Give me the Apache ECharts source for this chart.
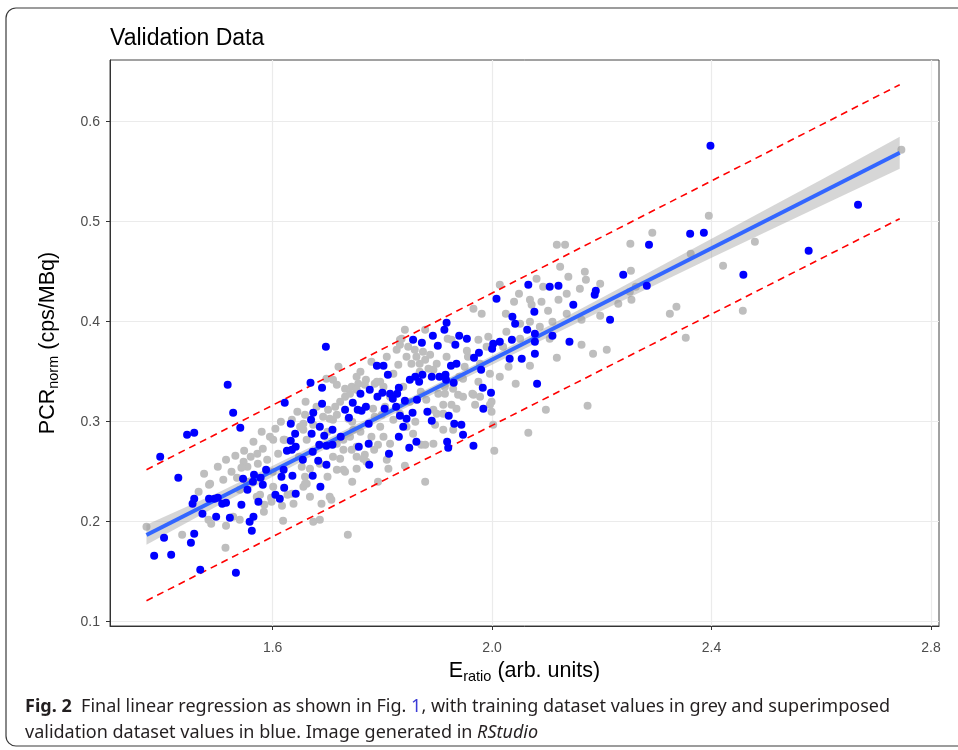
<!DOCTYPE html>
<html>
<head>
<meta charset="utf-8">
<script src="https://cdn.jsdelivr.net/npm/echarts@6/dist/echarts.min.js"></script>
<style>
  html, body { margin: 0; padding: 0; background: #fff; }
  #chart { width: 958px; height: 750px; }
</style>
</head>
<body>
<div id="chart"></div>
<script>
// axis ranges and labelled breaks
const xRange = [1.3035, 2.8146];
const yRange = [0.0957, 0.6617];
const xBreaks = [1.6, 2.0, 2.4, 2.8];
const yBreaks = [0.1, 0.2, 0.3, 0.4, 0.5, 0.6];

// training points (grey)
const trainPts = [
  [1.370,0.195],[1.435,0.187],[1.514,0.174],[1.484,0.237],[1.510,0.242],[1.532,0.266],[1.548,0.271],[1.560,0.265],
  [1.572,0.268],[1.582,0.273],[1.547,0.260],[1.554,0.255],[1.543,0.254],[1.573,0.258],[1.605,0.293],[1.610,0.268],
  [1.620,0.282],[1.635,0.302],[1.535,0.244],[1.483,0.202],[1.488,0.198],[1.515,0.196],[1.540,0.202],[1.585,0.217],
  [1.584,0.210],[1.601,0.235],[1.597,0.224],[1.619,0.201],[1.638,0.218],[1.617,0.216],[1.627,0.227],[1.577,0.227],
  [1.710,0.342],[1.717,0.337],[1.732,0.333],[1.744,0.335],[1.756,0.338],[1.768,0.337],[1.786,0.338],[1.796,0.340],
  [1.732,0.325],[1.723,0.320],[1.714,0.315],[1.701,0.312],[1.717,0.307],[1.704,0.303],[1.692,0.305],[1.659,0.307],
  [1.650,0.295],[1.656,0.292],[1.662,0.282],[1.717,0.278],[1.729,0.282],[1.741,0.285],[1.729,0.272],[1.744,0.272],
  [1.710,0.265],[1.723,0.263],[1.753,0.265],[1.768,0.267],[1.771,0.260],[1.717,0.252],[1.729,0.252],[1.659,0.245],
  [1.656,0.235],[1.668,0.225],[1.704,0.225],[1.689,0.218],[1.811,0.253],[1.841,0.256],[1.792,0.240],[1.878,0.240],
  [1.796,0.295],[1.802,0.285],[1.792,0.277],[1.814,0.278],[1.808,0.262],[1.820,0.302],[1.786,0.305],[1.799,0.307],
  [1.783,0.313],[1.835,0.383],[1.847,0.375],[1.844,0.365],[1.859,0.372],[1.862,0.365],[1.874,0.370],[1.878,0.362],
  [1.887,0.367],[1.899,0.358],[1.884,0.353],[1.868,0.358],[1.838,0.335],[1.902,0.328],[1.914,0.328],[1.911,0.317],
  [1.926,0.317],[1.893,0.312],[1.929,0.292],[1.911,0.292],[1.893,0.278],[1.878,0.277],[1.938,0.327],[1.935,0.313],
  [1.878,0.392],[1.841,0.392],[1.926,0.382],[1.832,0.377],[1.829,0.357],[1.820,0.348],[1.770,0.342],[1.753,0.345],
  [1.698,0.343],[1.686,0.258],[1.668,0.253],[1.653,0.255],[1.753,0.253],[1.707,0.222],[1.674,0.200],[1.686,0.202],
  [1.737,0.187],[1.659,0.238],
  [2.014,0.437],[2.049,0.428],[2.081,0.443],[2.093,0.435],[2.124,0.455],[2.139,0.445],[2.136,0.428],[2.121,0.422],
  [2.169,0.450],[2.171,0.442],[2.160,0.433],[2.197,0.438],[2.069,0.422],[2.072,0.417],[2.102,0.411],[2.136,0.408],
  [2.163,0.402],[2.025,0.408],[1.981,0.408],[1.966,0.413],[2.069,0.400],[2.051,0.398],[2.087,0.395],[2.026,0.390],
  [1.993,0.385],[1.975,0.382],[2.020,0.375],[2.051,0.383],[2.105,0.383],[2.118,0.364],[2.184,0.368],[2.209,0.372],
  [2.069,0.356],[2.043,0.338],[2.014,0.345],[1.996,0.348],[1.978,0.358],[1.956,0.365],[1.947,0.343],[1.947,0.325],
  [1.964,0.328],[1.978,0.325],[1.996,0.317],[1.999,0.310],[1.969,0.317],[1.911,0.308],[2.002,0.297],[2.098,0.312],
  [2.174,0.316],[2.066,0.289],[2.004,0.271],[1.917,0.365],[1.914,0.335],
  [2.395,0.506],[2.292,0.489],[2.252,0.478],[2.133,0.477],[2.253,0.451],[2.262,0.435],[2.251,0.430],[2.254,0.422],
  [2.230,0.418],[2.197,0.406],[2.324,0.408],[2.336,0.415],[2.421,0.456],[2.479,0.480],[2.362,0.468],[2.353,0.384],
  [2.457,0.411],[2.163,0.377],[2.746,0.572],[2.118,0.477],[1.919,0.383],[1.832,0.382],[1.954,0.371],
  [1.622,0.282],[1.656,0.298],[1.674,0.297],[1.710,0.302],[1.738,0.303],[1.747,0.292],[1.753,0.275],[1.765,0.263],
  [1.732,0.250],[1.662,0.238],[1.635,0.228],[1.598,0.220],[1.571,0.225],[1.540,0.232],[1.553,0.240],[1.486,0.238],
  [1.528,0.205],[1.741,0.328],[1.753,0.332],[1.790,0.340],[1.802,0.335],[1.814,0.325],[1.805,0.315],[1.832,0.308],
  [1.844,0.295],[1.856,0.288],[1.871,0.277],[1.896,0.297],[1.899,0.308],[1.929,0.333],[1.966,0.327],[1.999,0.320],
  [1.808,0.365],[1.826,0.372],[1.893,0.352],[1.868,0.350],[1.853,0.358],[1.990,0.375],[1.601,0.282],
  [1.745,0.300],[1.760,0.290],[1.700,0.290],[1.680,0.315],[1.660,0.320],[1.645,0.310],[1.615,0.300],[1.595,0.285],
  [1.580,0.290],[1.565,0.280],[1.500,0.255],[1.515,0.262],[1.525,0.250],[1.590,0.262],[1.600,0.250],[1.648,0.265],
  [1.700,0.245],[1.745,0.240],[1.780,0.285],[1.785,0.272],[1.850,0.320],[1.870,0.330],[1.880,0.322],[1.860,0.300],
  [1.760,0.350],[1.780,0.360],[1.720,0.355],[1.940,0.345],[1.950,0.355],[1.975,0.340],[2.040,0.420],[2.090,0.420],
  [2.110,0.400],[2.030,0.355],[1.465,0.230],[1.475,0.248]
];

// validation points (blue)
const validPts = [
  [1.518,0.337],[1.622,0.319],[1.528,0.309],[1.541,0.294],[1.444,0.287],[1.457,0.289],[1.395,0.265],[1.428,0.244],
  [1.633,0.298],[1.641,0.288],[1.633,0.281],[1.626,0.271],[1.635,0.272],[1.588,0.252],[1.566,0.247],[1.578,0.244],
  [1.546,0.243],[1.564,0.240],[1.582,0.237],[1.620,0.252],[1.616,0.245],[1.636,0.246],[1.621,0.234],[1.554,0.232],
  [1.605,0.227],[1.613,0.223],[1.642,0.228],[1.457,0.223],[1.454,0.218],[1.484,0.223],[1.494,0.223],[1.500,0.224],
  [1.508,0.218],[1.515,0.219],[1.543,0.217],[1.574,0.220],[1.472,0.208],[1.497,0.205],[1.522,0.204],[1.565,0.205],
  [1.558,0.200],[1.562,0.191],[1.457,0.188],[1.451,0.179],[1.402,0.184],[1.384,0.166],[1.415,0.167],[1.468,0.152],
  [1.533,0.149],
  [1.697,0.375],[1.669,0.339],[1.690,0.334],[1.690,0.318],[1.674,0.309],[1.670,0.302],[1.686,0.295],[1.709,0.292],
  [1.671,0.288],[1.694,0.286],[1.724,0.285],[1.642,0.275],[1.685,0.277],[1.698,0.276],[1.709,0.277],[1.673,0.270],
  [1.655,0.262],[1.683,0.261],[1.698,0.257],[1.673,0.246],[1.687,0.235],[1.757,0.275],[1.775,0.278],[1.776,0.257],
  [1.812,0.268],[1.760,0.328],[1.746,0.319],[1.732,0.312],[1.739,0.304],[1.755,0.312],[1.762,0.311],[1.770,0.315],
  [1.775,0.298],[1.777,0.332],[1.791,0.325],[1.800,0.329],[1.814,0.328],[1.827,0.328],[1.830,0.334],[1.819,0.323],
  [1.804,0.313],[1.825,0.315],[1.790,0.356],[1.802,0.356],[1.810,0.347],[1.841,0.321],[1.863,0.322],[1.832,0.306],
  [1.844,0.303],[1.838,0.295],[1.855,0.309],[1.830,0.285],[1.849,0.274],[1.862,0.280],[1.850,0.342],[1.860,0.345],
  [1.873,0.347],[1.867,0.340],[1.890,0.345],[1.904,0.345],[1.915,0.347],[1.925,0.356],[1.935,0.358],[1.916,0.342],
  [1.882,0.310],[1.890,0.301],[1.921,0.306],[1.931,0.298],[1.918,0.280],[1.920,0.274],[1.856,0.382],[1.872,0.379],
  [1.892,0.386],[1.901,0.376],[1.913,0.392],[1.933,0.377],
  [2.008,0.423],[2.066,0.437],[2.105,0.435],[2.121,0.436],[2.189,0.431],[2.187,0.427],[2.148,0.417],[2.077,0.410],
  [2.037,0.405],[2.042,0.398],[2.215,0.402],[2.064,0.392],[2.078,0.388],[2.110,0.386],[2.078,0.380],[2.141,0.380],
  [2.036,0.382],[2.014,0.380],[2.002,0.378],[2.000,0.373],[2.078,0.368],[2.032,0.363],[2.054,0.363],[1.917,0.399],
  [1.940,0.386],[1.954,0.383],[1.976,0.369],[1.967,0.364],[1.980,0.352],[1.930,0.339],[2.082,0.338],[1.983,0.334],
  [1.998,0.329],[1.984,0.313],[1.944,0.297],[1.947,0.287],[1.966,0.276],
  [2.361,0.488],[2.386,0.489],[2.286,0.477],[2.239,0.447],[2.282,0.436],[2.458,0.447],[2.398,0.576],[2.667,0.517],
  [2.577,0.471]
];

// regression fit and prediction limits (read at the two line ends)
const lineX = [1.370, 2.743];
const fitY = [0.1867, 0.569];
const upperY = [0.252, 0.637];
const lowerY = [0.121, 0.503];

// confidence ribbon around the fit
const bandX = [1.370, 1.50, 1.70, 1.85, 2.00, 2.20, 2.40, 2.60, 2.743];
const bandHi = [0.197, 0.229, 0.283, 0.324, 0.366, 0.424, 0.483, 0.542, 0.585];
const bandLo = [0.177, 0.216, 0.274, 0.316, 0.357, 0.411, 0.464, 0.516, 0.553];

const zip = (xs, ys) => xs.map((x, i) => [x, ys[i]]);
const FONT = 'Liberation Sans';

const nameRich = {
  m: { fontFamily: FONT, fontSize: 21.5, color: '#000', lineHeight: 26 },
  s: { fontFamily: FONT, fontSize: 14.5, color: '#000', lineHeight: 14, verticalAlign: 'bottom' }
};

const chart = echarts.init(document.getElementById('chart'));
chart.setOption({
  animation: false,
  backgroundColor: '#fff',
  title: {
    text: 'Validation Data',
    left: 110,
    top: 27,
    padding: 0,
    textStyle: { fontFamily: FONT, fontSize: 23, fontWeight: 'normal', color: '#000' }
  },
  grid: {
    left: 110, right: 19, top: 60, bottom: 124,
    show: true, borderColor: '#444', borderWidth: 1,
    containLabel: false, outerBoundsMode: 'none'
  },
  xAxis: {
    type: 'value',
    min: xRange[0], max: xRange[1],
    minInterval: 0.2, maxInterval: 0.2,
    name: '{m|E}{s|ratio}{m| (arb. units)}',
    nameLocation: 'middle',
    nameGap: 32,
    nameMoveOverlap: false,
    nameTextStyle: { rich: nameRich },
    axisLine: { show: true, onZero: false, lineStyle: { color: '#333', width: 1 } },
    axisTick: { show: true, length: 4, customValues: xBreaks, lineStyle: { color: '#333' } },
    axisLabel: {
      customValues: xBreaks,
      formatter: v => v.toFixed(1),
      fontFamily: FONT, fontSize: 14, color: '#4d4d4d', margin: 15
    },
    splitLine: { show: true, lineStyle: { color: '#ebebeb', width: 1.2 } }
  },
  yAxis: {
    type: 'value',
    min: yRange[0], max: yRange[1],
    minInterval: 0.05, maxInterval: 0.05,
    name: '{m|PCR}{s|norm}{m| (cps/MBq)}',
    nameLocation: 'middle',
    nameRotate: 90,
    nameGap: 49,
    nameMoveOverlap: false,
    nameTextStyle: { rich: nameRich },
    axisLine: { show: true, onZero: false, lineStyle: { color: '#333', width: 1 } },
    axisTick: { show: true, length: 4, customValues: yBreaks, lineStyle: { color: '#333' } },
    axisLabel: {
      customValues: yBreaks,
      formatter: v => v.toFixed(1),
      fontFamily: FONT, fontSize: 14, color: '#4d4d4d', margin: 10
    },
    splitLine: { show: true, lineStyle: { color: '#ebebeb', width: 1.2 } }
  },
  series: [
    {
      name: 'training',
      type: 'scatter',
      data: trainPts,
      symbolSize: 8,
      itemStyle: { color: '#bebebe', opacity: 1 },
      z: 2
    },
    {
      name: 'band',
      type: 'custom',
      data: [0],
      z: 3,
      renderItem: (params, api) => {
        const top = bandX.map((x, i) => api.coord([x, bandHi[i]]));
        const bot = bandX.map((x, i) => api.coord([x, bandLo[i]])).reverse();
        return {
          type: 'polygon',
          shape: { points: top.concat(bot) },
          style: { fill: 'rgba(153,153,153,0.4)' }
        };
      }
    },
    {
      name: 'fit',
      type: 'line',
      data: zip(lineX, fitY),
      showSymbol: false,
      lineStyle: { color: '#3366ff', width: 4 },
      z: 4
    },
    {
      name: 'upper',
      type: 'line',
      data: zip(lineX, upperY),
      showSymbol: false,
      lineStyle: { color: '#ff0000', width: 1.6, type: [7, 5] },
      z: 4
    },
    {
      name: 'lower',
      type: 'line',
      data: zip(lineX, lowerY),
      showSymbol: false,
      lineStyle: { color: '#ff0000', width: 1.6, type: [7, 5] },
      z: 4
    },
    {
      name: 'validation',
      type: 'scatter',
      data: validPts,
      symbolSize: 8,
      itemStyle: { color: '#0000ff', opacity: 1 },
      z: 5
    }
  ],
  graphic: [
    {
      type: 'rect',
      silent: true,
      z: -10,
      shape: { x: 6, y: 8, width: 1000, height: 738, r: 10 },
      style: { fill: 'none', stroke: '#3a3a3a', lineWidth: 1.2 }
    },
    {
      type: 'text',
      x: 25,
      y: 694,
      style: {
        text: '{b|Fig. 2}  Final linear regression as shown in Fig. {l|1}, with training dataset values in grey and superimposed\n' +
              'validation dataset values in blue. Image generated in {i|RStudio}',
        fontFamily: 'Noto Sans',
        fontSize: 18,
        lineHeight: 26,
        fill: '#231f20',
        rich: {
          b: { fontFamily: 'Noto Sans', fontSize: 18, fontWeight: 'bold', fill: '#231f20', lineHeight: 26 },
          l: { fontFamily: 'Noto Sans', fontSize: 18, fill: '#3b3bd6', lineHeight: 26 },
          i: { fontFamily: 'Noto Sans', fontSize: 18, fontStyle: 'italic', fill: '#231f20', lineHeight: 26 }
        }
      }
    }
  ]
});
</script>
</body>
</html>
